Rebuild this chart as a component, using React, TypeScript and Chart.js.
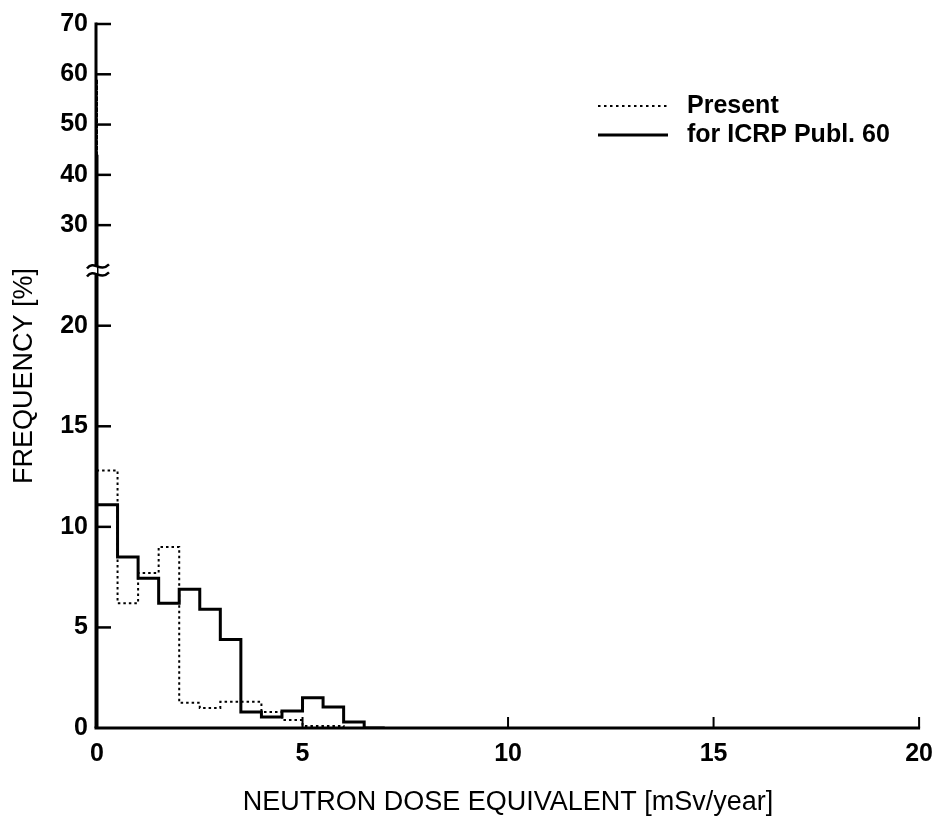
import { useEffect, useRef } from "react";
import { Chart, registerables } from "chart.js";

Chart.register(...registerables);

// ---- data ----
// lower edges of the 0.5 mSv/year dose bins
const binStarts = [0, 0.5, 1.0, 1.5, 2.0, 2.5, 3.0, 3.5, 4.0, 4.5, 5.0, 5.5, 6.0, 6.5];
const binEnd = 7.0;
// frequency [%] of workers with zero dose (drawn as spike at x = 0)
const presentZeroDose = 59;
const icrpZeroDose = 44;
// frequency [%] per bin
const presentFreq = [12.8, 6.2, 7.7, 9.0, 1.25, 1.0, 1.3, 1.3, 0.8, 0.4, 0.1, 0.1, 0, 0];
const icrpFreq = [11.1, 8.5, 7.45, 6.2, 6.9, 5.9, 4.4, 0.8, 0.55, 0.85, 1.5, 1.05, 0.3, 0];
// axis ticks
const yTickValues = [0, 5, 10, 15, 20, 30, 40, 50, 60, 70];
const xTickValues = [0, 5, 10, 15, 20];
const seriesLabels = ["Present", "for ICRP Publ. 60"];
const xTitle = "NEUTRON DOSE EQUIVALENT [mSv/year]";
const yTitle = "FREQUENCY [%]";

// broken y axis: 0..22 linear, 30..70 compressed by 4
const BREAK_LOW = 22;
const T = (v: number) => (v <= BREAK_LOW ? v : 25 + (v - 30) / 4);
const BREAK_AT = 22.75;

const FONT = "'Liberation Sans', Arial, Helvetica, sans-serif";

// points for a histogram outline: each point holds the bin's start and value;
// with stepped "before" the line runs level at the previous value, then jumps.
function buildSeries(zero: number, freq: number[]) {
  const pts: { x: number; y: number }[] = [];
  pts.push({ x: 0, y: T(0) });
  pts.push({ x: 0, y: T(zero) });
  pts.push({ x: 0, y: T(freq[0]) });
  for (let i = 1; i < freq.length; i++) pts.push({ x: binStarts[i], y: T(freq[i]) });
  pts.push({ x: binEnd, y: T(0) });
  return pts;
}

const axesPlugin = {
  id: "brokenAxes",
  afterDatasetsDraw(chart: any) {
    const { ctx, chartArea, scales } = chart;
    const ys = scales.y;
    const xs = scales.x;
    const left = chartArea.left;
    const bottom = chartArea.bottom;
    const top = chartArea.top;
    const right = chartArea.right;
    const ax = left - 1;
    ctx.save();
    ctx.strokeStyle = "#000";
    ctx.lineCap = "butt";
    ctx.setLineDash([]);
    // x axis
    ctx.lineWidth = 3;
    ctx.beginPath();
    ctx.moveTo(ax - 1.5, bottom);
    ctx.lineTo(right + 1, bottom);
    ctx.stroke();
    // y axis with break
    const yb = ys.getPixelForValue(BREAK_AT);
    ctx.beginPath();
    ctx.moveTo(ax, bottom);
    ctx.lineTo(ax, yb + 4);
    ctx.moveTo(ax, yb - 4);
    ctx.lineTo(ax, top - 1.5);
    ctx.stroke();
    // break marks
    ctx.lineWidth = 2.5;
    [yb + 4, yb - 4].forEach((yy) => {
      ctx.beginPath();
      ctx.moveTo(ax - 9, yy + 2);
      ctx.bezierCurveTo(ax - 2, yy - 7, ax + 4, yy + 7, ax + 13, yy - 2);
      ctx.stroke();
    });
    // inward y ticks
    ctx.lineWidth = 2.5;
    ys.ticks.forEach((t: any) => {
      if (t.value === 0) return;
      const py = ys.getPixelForValue(t.value);
      ctx.beginPath();
      ctx.moveTo(ax, py);
      ctx.lineTo(ax + 15, py);
      ctx.stroke();
    });
    // inward x ticks
    ctx.lineWidth = 2;
    xs.ticks.forEach((t: any) => {
      if (t.value === 0) return;
      const px = xs.getPixelForValue(t.value);
      ctx.beginPath();
      ctx.moveTo(px, bottom);
      ctx.lineTo(px, bottom - 11);
      ctx.stroke();
    });
    ctx.restore();
  },
  afterDraw(chart: any) {
    const { ctx, chartArea } = chart;
    const lx0 = chartArea.left + 501;
    const lx1 = lx0 + 70;
    const tx = lx1 + 19;
    const y1 = chartArea.top + 82;
    const y2 = chartArea.top + 111;
    ctx.save();
    ctx.strokeStyle = "#000";
    ctx.fillStyle = "#000";
    ctx.lineWidth = 2;
    ctx.setLineDash([2.5, 3.5]);
    ctx.beginPath();
    ctx.moveTo(lx0, y1);
    ctx.lineTo(lx1, y1);
    ctx.stroke();
    ctx.setLineDash([]);
    ctx.lineWidth = 3;
    ctx.beginPath();
    ctx.moveTo(lx0, y2);
    ctx.lineTo(lx1, y2);
    ctx.stroke();
    ctx.font = `bold 25px ${FONT}`;
    ctx.textBaseline = "middle";
    ctx.textAlign = "left";
    ctx.fillText(seriesLabels[0], tx, y1);
    ctx.fillText(seriesLabels[1], tx, y2);
    ctx.restore();
  },
};

export default function App() {
  const ref = useRef<HTMLCanvasElement | null>(null);
  useEffect(() => {
    document.body.style.margin = "0";
    if (!ref.current) return;
    Chart.defaults.color = "#000";
    const chart = new Chart(ref.current, {
      type: "line",
      data: {
        datasets: [
          {
            label: seriesLabels[0],
            data: buildSeries(presentZeroDose, presentFreq),
            borderColor: "#000",
            borderWidth: 2,
            borderDash: [2.5, 3],
            stepped: "before",
            pointRadius: 0,
            fill: false,
          },
          {
            label: seriesLabels[1],
            data: buildSeries(icrpZeroDose, icrpFreq),
            borderColor: "#000",
            borderWidth: 3,
            stepped: "before",
            pointRadius: 0,
            fill: false,
            borderJoinStyle: "miter",
          },
        ],
      },
      options: {
        animation: false,
        responsive: false,
        events: [],
        layout: { padding: { left: 0, top: 24, right: 16, bottom: 0 } },
        plugins: { legend: { display: false }, tooltip: { enabled: false } },
        scales: {
          x: {
            type: "linear",
            min: 0,
            max: 20,
            afterBuildTicks: (s: any) => {
              s.ticks = xTickValues.map((v) => ({ value: v }));
            },
            afterFit: (s: any) => {
              s.height = 96;
            },
            grid: { display: false, drawTicks: false },
            border: { display: false },
            ticks: {
              padding: 11,
              font: { family: FONT, size: 25, weight: "bold" },
              color: "#000",
              maxRotation: 0,
            },
            title: {
              display: true,
              text: xTitle,
              color: "#000",
              font: { family: FONT, size: 27 },
              padding: { top: 0, bottom: 5 },
            },
          },
          y: {
            type: "linear",
            min: 0,
            max: 35,
            afterBuildTicks: (s: any) => {
              s.ticks = yTickValues.map((v) => ({ value: T(v) }));
            },
            afterFit: (s: any) => {
              s.width = 97;
            },
            grid: { display: false, drawTicks: false },
            border: { display: false },
            ticks: {
              padding: 9,
              font: { family: FONT, size: 25, weight: "bold" },
              color: "#000",
              callback: (_v: any, i: number) => String(yTickValues[i]),
            },
            title: {
              display: true,
              text: yTitle,
              color: "#000",
              font: { family: FONT, size: 27 },
              padding: { top: 8, bottom: 0 },
            },
          },
        },
      } as any,
      plugins: [axesPlugin],
    });
    return () => chart.destroy();
  }, []);
  return <canvas ref={ref} width={944} height={824} style={{ width: 944, height: 824, display: "block" }} />;
}
